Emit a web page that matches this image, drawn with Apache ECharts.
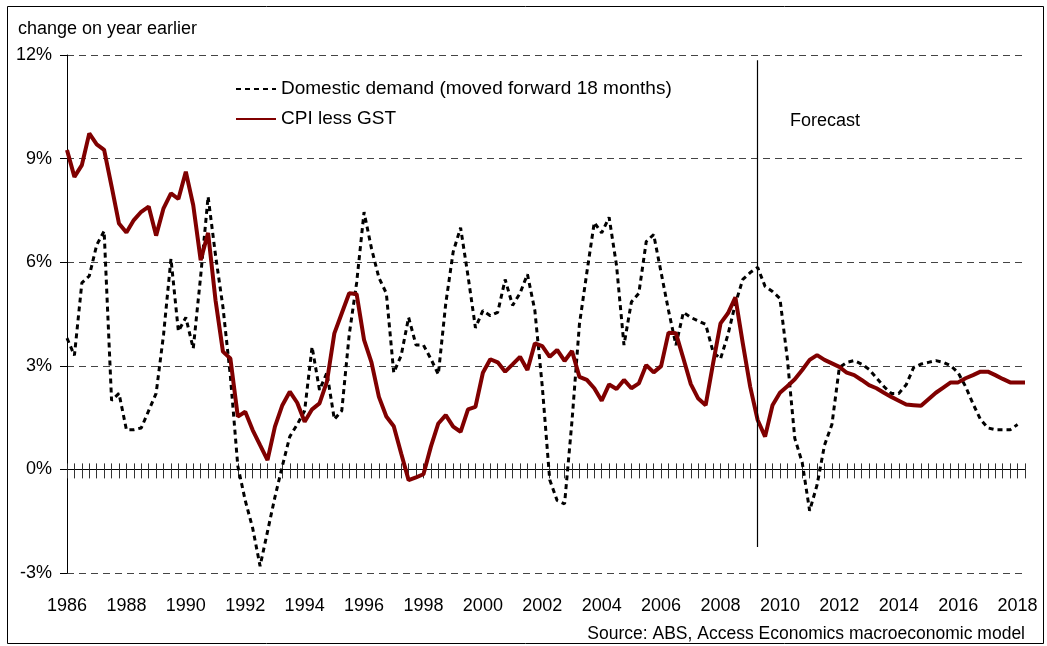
<!DOCTYPE html>
<html>
<head>
<meta charset="utf-8">
<script src="https://cdn.jsdelivr.net/npm/echarts@6/dist/echarts.min.js"></script>
<style>
  html, body { margin: 0; padding: 0; background: #fff; }
  #chart { width: 1047px; height: 646px; }
</style>
</head>
<body>
<div id="chart"></div>
<script>
// quarterly, 1986Q1 .. 2018Q2
var firstYear = 1986;
var quarterCount = 130;
var quarters = [];
for (var q = 0; q < quarterCount; q++) {
  quarters.push((firstYear + Math.floor(q / 4)) + 'Q' + (q % 4 + 1));
}

var yTicks = [-3, 0, 3, 6, 9, 12];
var forecastStart = '2009Q2';

// CPI less GST, % change on year earlier
var cpiLessGst = [
  9.25, 8.47, 8.81, 9.73, 9.41, 9.25, 8.2, 7.12, 6.86, 7.22,
  7.46, 7.61, 6.77, 7.56, 7.99, 7.83, 8.62, 7.65, 6.06, 6.85,
  4.9, 3.41, 3.21, 1.53, 1.67, 1.14, 0.70, 0.27, 1.24, 1.86,
  2.25, 1.93, 1.38, 1.74, 1.91, 2.54, 3.94, 4.52, 5.10, 5.08,
  3.75, 3.1, 2.1, 1.53, 1.25, 0.46, -0.31, -0.23, -0.14, 0.66,
  1.33, 1.57, 1.24, 1.09, 1.74, 1.81, 2.80, 3.19, 3.10, 2.83,
  3.04, 3.26, 2.88, 3.65, 3.57, 3.26, 3.46, 3.14, 3.43, 2.68,
  2.59, 2.35, 1.99, 2.46, 2.33, 2.59, 2.35, 2.49, 3.02, 2.81,
  2.99, 3.96, 3.94, 3.21, 2.47, 2.05, 1.86, 3.07, 4.23, 4.52,
  4.98, 3.65, 2.39, 1.43, 0.95, 1.86, 2.22, 2.41, 2.61, 2.88,
  3.17, 3.31, 3.17, 3.07, 2.97, 2.80, 2.73, 2.59, 2.44, 2.35,
  2.22, 2.10, 1.99, 1.88, 1.86, 1.84, 2.03, 2.22, 2.37, 2.52,
  2.52, 2.64, 2.73, 2.83, 2.83, 2.73, 2.62, 2.52, 2.52, 2.52
];

// Domestic demand, moved forward 18 months
var domesticDemand = [
  3.8, 3.3, 5.4, 5.6, 6.5, 6.9, 2.0, 2.2, 1.15, 1.15,
  1.2, 1.7, 2.2, 3.9, 6.1, 4.0, 4.4, 3.5, 5.6, 7.9,
  6.2, 4.7, 2.7, 0.1, -0.9, -1.7, -2.8, -1.8, -0.8, 0.1,
  0.95, 1.3, 1.7, 3.55, 2.3, 2.8, 1.45, 1.7, 3.9, 5.4,
  7.45, 6.4, 5.55, 5.1, 2.8, 3.3, 4.4, 3.6, 3.6, 3.2,
  2.75, 4.8, 6.3, 7.0, 5.6, 4.1, 4.6, 4.45, 4.55, 5.5,
  4.75, 5.1, 5.65, 4.6, 2.4, -0.3, -0.9, -1.0, 1.4, 4.2,
  5.7, 7.15, 6.85, 7.3, 5.9, 3.6, 4.85, 5.1, 6.6, 6.8,
  5.7, 4.6, 3.6, 4.55, 4.4, 4.3, 4.2, 3.4, 3.2, 3.9,
  4.8, 5.5, 5.7, 5.85, 5.3, 5.15, 4.95, 3.2, 0.9, 0.2,
  -1.2, -0.45, 0.7, 1.3, 2.95, 3.1, 3.15, 3.05, 2.9, 2.65,
  2.4, 2.2, 2.2, 2.45, 2.95, 3.05, 3.1, 3.15, 3.1, 3.0,
  2.8, 2.4, 1.9, 1.45, 1.2, 1.15, 1.15, 1.15, 1.3
];

var font = "'Liberation Sans', Arial, sans-serif";
var chart = echarts.init(document.getElementById('chart'), null, { renderer: 'canvas' });

// the zero line carries quarter ticks both ways, so two axes sit on it,
// each one on zero of its own (identical) value axis
function zeroAxis(pos, len, yIndex) {
  return {
    type: 'category',
    position: pos,
    data: quarters,
    boundaryGap: false,
    axisLine: { show: true, onZero: true, onZeroAxisIndex: yIndex, lineStyle: { color: '#000', width: 1 } },
    axisTick: { show: true, interval: 0, length: len, lineStyle: { color: '#333', width: 1 } },
    axisLabel: { show: false },
    splitLine: { show: false }
  };
}

function valueAxis(visible) {
  return {
    type: 'value',
    position: 'left',
    min: yTicks[0],
    max: yTicks[yTicks.length - 1],
    interval: 3,
    show: visible,
    axisLine: { show: true, lineStyle: { color: '#000', width: 1 } },
    axisTick: { show: true, length: 7, lineStyle: { color: '#000' } },
    axisLabel: {
      margin: 15,
      fontFamily: font,
      fontSize: 18,
      color: '#000',
      formatter: function (v) { return v + '%'; }
    },
    splitLine: { show: visible, lineStyle: { color: '#444', width: 1, type: [7, 5] } }
  };
}

var option = {
  animation: false,
  backgroundColor: '#fff',
  textStyle: { fontFamily: font, color: '#000' },
  title: [
    { text: 'change on year earlier', left: 13, top: 15,
      textStyle: { fontFamily: font, fontSize: 18, fontWeight: 'normal', color: '#000' } },
    { text: 'Source: ABS, Access Economics macroeconomic model', right: 17, top: 620,
      textStyle: { fontFamily: font, fontSize: 17.5, fontWeight: 'normal', color: '#000' } }
  ],
  legend: {
    orient: 'vertical',
    left: 230,
    top: 73,
    itemWidth: 40,
    itemHeight: 14,
    itemGap: 8,
    itemStyle: { opacity: 0 },
    textStyle: { fontFamily: font, fontSize: 19, color: '#000', lineHeight: 22 },
    data: ['Domestic demand (moved forward 18 months)', 'CPI less GST']
  },
  grid: { left: 67, right: 22, top: 55, bottom: 73, containLabel: false },
  xAxis: [
    {
      type: 'category',
      position: 'bottom',
      data: quarters,
      boundaryGap: false,
      axisLine: { show: false, onZero: false },
      axisTick: { show: false },
      axisLabel: {
        interval: 7,
        margin: 24,
        fontFamily: font,
        fontSize: 18,
        color: '#000',
        formatter: function (v) { return v.substring(0, 4); }
      },
      splitLine: { show: false }
    },
    zeroAxis('top', 6, 0),
    zeroAxis('bottom', 9, 1)
  ],
  yAxis: [valueAxis(true), valueAxis(false)],
  series: [
    {
      name: 'Domestic demand (moved forward 18 months)',
      type: 'line',
      data: domesticDemand,
      symbol: 'none',
      lineStyle: { color: '#000', width: 3, type: [5, 4] },
      itemStyle: { color: '#000' },
      z: 3
    },
    {
      name: 'CPI less GST',
      type: 'line',
      data: cpiLessGst,
      symbol: 'none',
      lineStyle: { color: '#800000', width: 4 },
      itemStyle: { color: '#800000' },
      z: 4,
      markLine: {
        silent: true,
        symbol: 'none',
        label: { show: false },
        lineStyle: { color: '#000', width: 1.2, type: 'solid' },
        data: [[
          { coord: [forecastStart, 11.85] },
          { coord: [forecastStart, -2.25] }
        ]]
      }
    }
  ],
  graphic: [
    { type: 'text', left: 790, top: 112,
      style: { text: 'Forecast', font: '18px ' + font, fill: '#000' } },
    { type: 'rect', shape: { x: 7.5, y: 6.5, width: 1036, height: 637 },
      style: { fill: 'none', stroke: '#000', lineWidth: 1 }, silent: true }
  ]
};

chart.setOption(option);
</script>
</body>
</html>
